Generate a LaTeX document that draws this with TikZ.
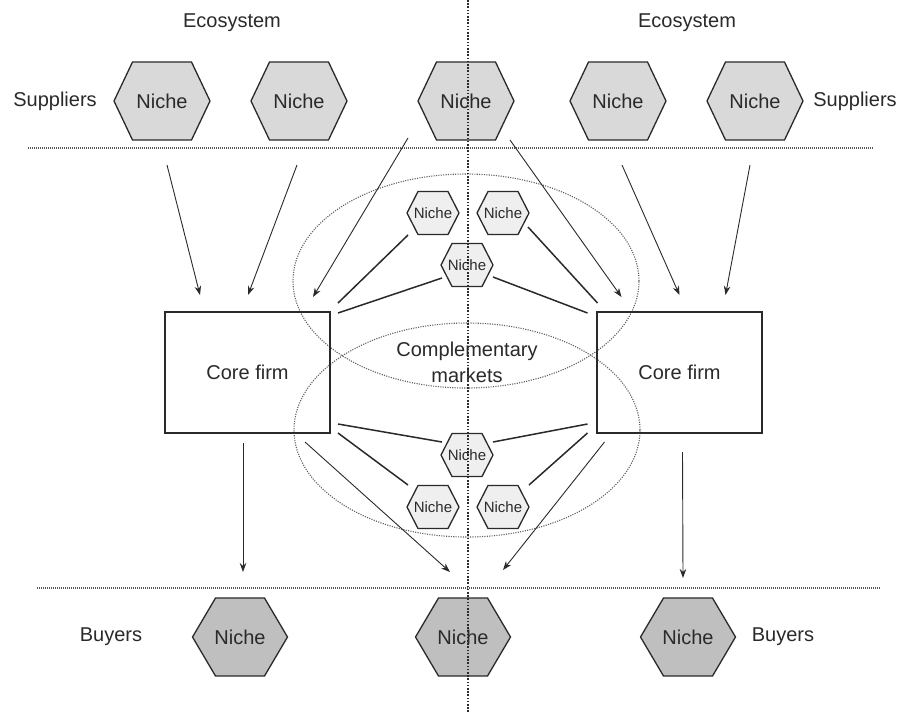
\documentclass[tikz,border=0pt]{standalone}
\usepackage{fontspec}
\setmainfont{Liberation Sans}
\usetikzlibrary{shapes.geometric,arrows.meta}
\definecolor{ink}{HTML}{2A2A2A}
\definecolor{topfill}{HTML}{D9D9D9}
\definecolor{botfill}{HTML}{BFBFBF}
\definecolor{smallfill}{HTML}{EFEFEF}
\newcommand\hexat[8]{% name, x, y, half width, half height, inset, fill, font size
  \path[draw=ink, line width=1.3pt, line join=miter, fill=#7]
    (#2-#4,#3) -- (#2-#4+#6,#3-#5) -- (#2+#4-#6,#3-#5) -- (#2+#4,#3)
    -- (#2+#4-#6,#3+#5) -- (#2-#4+#6,#3+#5) -- cycle;
  \node[inner sep=0pt, text=ink, font=\fontsize{#8}{#8}\selectfont] (#1) at (#2,#3) {Niche};
}
\tikzset{
  lbl/.style={text=ink, inner sep=0pt, font=\fontsize{20}{24}\selectfont},
  corebox/.style={draw=ink, line width=1.3pt, minimum width=165pt, minimum height=121pt,
    text=ink, font=\fontsize{20}{24}\selectfont},
  arr/.style={draw=ink, line width=0.9pt, -{Stealth[length=9pt,width=6.5pt]}},
  link/.style={draw=ink, line width=1.5pt},
  hdots/.style={draw=ink!80, line width=1.3pt, dash pattern=on 1pt off 1pt},
  vdots/.style={draw=ink, line width=1.8pt, dash pattern=on 1.6pt off 1.6pt},
  ell/.style={draw=ink!75, line width=1.1pt, dash pattern=on 1.1pt off 1.3pt,
    ellipse, minimum width=346pt, minimum height=214pt, inner sep=0pt},
}
\begin{document}
\begin{tikzpicture}[x=1pt,y=-1pt]
\useasboundingbox[fill=white] (0,0) rectangle (901,713);

% dotted separators
\draw[hdots] (28,148) -- (873,148);
\draw[hdots] (37,588) -- (880,588);

% complementary market ellipses
\node[ell] (e1) at (466,281) {};
\node[ell] (e2) at (467,430) {};

% core firms
\node[corebox] (cfL) at (247.5,372.5) {Core firm};
\node[corebox] (cfR) at (679.5,372.5) {Core firm};

% top niches
\hexat{h1}{162}{101}{48}{39}{18.5}{topfill}{20}
\hexat{h2}{299}{101}{48}{39}{18.5}{topfill}{20}
\hexat{h3}{466}{101}{48}{39}{18.5}{topfill}{20}
\hexat{h4}{618}{101}{48}{39}{18.5}{topfill}{20}
\hexat{h5}{755}{101}{48}{39}{18.5}{topfill}{20}

% small niches
\hexat{s1}{433}{213}{26}{21.5}{11}{smallfill}{15}
\hexat{s2}{503}{213}{26}{21.5}{11}{smallfill}{15}
\hexat{s3}{467}{265}{26}{21.5}{11}{smallfill}{15}
\hexat{s4}{467}{455}{26}{21.5}{11}{smallfill}{15}
\hexat{s5}{433}{507}{26}{21.5}{11}{smallfill}{15}
\hexat{s6}{503}{507}{26}{21.5}{11}{smallfill}{15}

% bottom niches
\hexat{b1}{240}{637}{47.5}{39}{23}{botfill}{20}
\hexat{b2}{463}{637}{47.5}{39}{23}{botfill}{20}
\hexat{b3}{688}{637}{47.5}{39}{23}{botfill}{20}

% labels
\node[lbl] (eco1) at (232,23) {Ecosystem};
\node[lbl] (eco2) at (687,23) {Ecosystem};
\node[lbl] (sup1) at (55,101) {Suppliers};
\node[lbl] (sup2) at (855,101) {Suppliers};
\node[lbl] (buy1) at (111,637) {Buyers};
\node[lbl] (buy2) at (783,637) {Buyers};
\node[lbl, align=center, font=\fontsize{20}{26}\selectfont] (cm) at (467,362) {Complementary\\markets};

% supplier arrows
\draw[arr] ([shift={(5,64)}]h1.center) -- ([shift={(-47.5,-77.5)}]cfL.center);
\draw[arr] ([shift={(-2,64)}]h2.center) -- ([shift={(0.5,-77.5)}]cfL.center);
\draw[arr] ([shift={(-58,37)}]h3.center) -- ([shift={(65.5,-75.5)}]cfL.center);
\draw[arr] ([shift={(44,39)}]h3.center) -- ([shift={(-58,-75.5)}]cfR.center);
\draw[arr] ([shift={(4,64)}]h4.center) -- ([shift={(0,-77.5)}]cfR.center);
\draw[arr] ([shift={(-5,64)}]h5.center) -- ([shift={(46,-77.5)}]cfR.center);

% complementary links
\draw[link] ([shift={(-25,22)}]s1.center) -- ([shift={(90.5,-69.5)}]cfL.center);
\draw[link] ([shift={(-25,13)}]s3.center) -- ([shift={(90.5,-59.5)}]cfL.center);
\draw[link] ([shift={(25,14)}]s2.center) -- ([shift={(-82,-69.5)}]cfR.center);
\draw[link] ([shift={(26,12)}]s3.center) -- ([shift={(-92,-59.5)}]cfR.center);
\draw[link] ([shift={(90.5,51.5)}]cfL.center) -- ([shift={(-25,-13)}]s4.center);
\draw[link] ([shift={(90.5,60.5)}]cfL.center) -- ([shift={(-25,-22)}]s5.center);
\draw[link] ([shift={(-92,51.5)}]cfR.center) -- ([shift={(26,-13)}]s4.center);
\draw[link] ([shift={(-92,60.5)}]cfR.center) -- ([shift={(26,-22)}]s6.center);

% buyer arrows
\draw[arr] ([shift={(-4.5,70.5)}]cfL.center) -- ([shift={(3,-65)}]b1.center);
\draw[arr] ([shift={(3,79.5)}]cfR.center) -- ([shift={(-5,-59)}]b3.center);
\draw[arr] ([shift={(57.5,69.5)}]cfL.center) -- ([shift={(-13,-65)}]b2.center);
\draw[arr] ([shift={(-75,69.5)}]cfR.center) -- ([shift={(40,-67)}]b2.center);

% central divider
\draw[vdots] (468,0) -- (468,713);
\end{tikzpicture}
\end{document}
